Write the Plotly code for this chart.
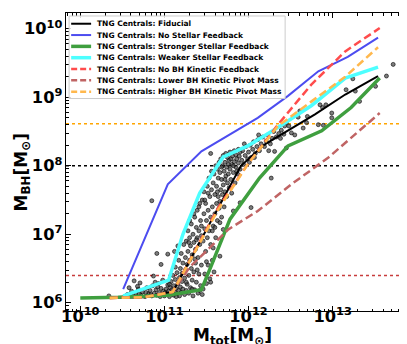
import numpy as np
import plotly.graph_objects as go

# binned median relations, log10 values
fid_logm = [10.35, 10.75, 11.10, 11.64, 11.91, 12.19, 12.59, 12.79, 13.15, 13.54]
fid_logbh = [6.07, 6.08, 6.16, 7.39, 8.00, 8.31, 8.60, 8.75, 9.04, 9.31]

nosf_logm = [10.51, 11.04, 11.44, 11.78, 12.11, 12.47, 12.83, 13.18, 13.54]
nosf_logbh = [6.20, 7.73, 8.21, 8.46, 8.70, 9.02, 9.38, 9.59, 9.87]

strong_logm = [10.0, 10.45, 11.04, 11.44, 11.56, 11.78, 12.13, 12.47, 12.87, 13.22, 13.56]
strong_logbh = [6.07, 6.08, 6.11, 6.19, 6.55, 7.22, 7.82, 8.29, 8.51, 8.85, 9.28]

weak_logm = [10.51, 11.05, 11.22, 11.42, 11.70, 11.99, 12.35, 12.75, 13.15, 13.54]
weak_logbh = [6.10, 6.33, 7.00, 7.60, 8.13, 8.29, 8.56, 8.88, 9.28, 9.44]

nokin_logm = [10.35, 10.75, 11.10, 11.64, 11.99, 12.35, 12.75, 13.15, 13.56]
nokin_logbh = [6.07, 6.08, 6.16, 7.39, 8.02, 8.60, 9.19, 9.67, 10.01]

lowpiv_logm = [10.35, 10.75, 11.10, 11.30, 11.52, 11.76, 12.11, 12.51, 12.95, 13.56]
lowpiv_logbh = [6.07, 6.08, 6.16, 6.52, 6.78, 7.07, 7.34, 7.73, 8.12, 8.77]

highpiv_logm = [10.35, 10.75, 11.10, 11.64, 11.99, 12.35, 12.75, 13.15, 13.54]
highpiv_logbh = [6.07, 6.08, 6.16, 7.36, 8.02, 8.58, 8.94, 9.30, 9.73]

# individual fiducial centrals (log10 M_tot, log10 M_BH)
gal_logm = [
    10.56, 10.61, 10.63, 10.66, 10.69, 10.72, 10.74, 10.77, 10.79, 10.81, 10.83, 10.85, 10.86, 10.88,
    10.90, 10.91, 10.93, 10.94, 10.96, 10.97, 10.99, 10.98, 10.95, 10.89, 10.84, 10.78, 10.70, 10.92,
    11.00, 11.01, 11.02, 11.03, 11.04, 11.05, 11.06, 11.07, 11.08, 11.08, 11.09, 11.10, 11.11, 11.11,
    11.12, 11.13, 11.13, 11.14, 11.15, 11.15, 11.16, 11.17, 11.17, 11.18, 11.18, 11.19, 11.19, 11.20,
    11.20, 11.21, 11.21, 11.22, 11.22, 11.23, 11.02, 11.06, 11.10, 11.14,
    11.24, 11.24, 11.25, 11.25, 11.26, 11.26, 11.27, 11.27, 11.28, 11.28, 11.29, 11.29, 11.30, 11.30,
    11.31, 11.31, 11.32, 11.32, 11.33, 11.33, 11.34, 11.34, 11.35, 11.35, 11.36, 11.36, 11.37, 11.37,
    11.38, 11.38, 11.39, 11.39, 11.40, 11.40, 11.41, 11.41, 11.42, 11.42, 11.43, 11.43, 11.44, 11.44,
    11.45, 11.45, 11.26, 11.29, 11.33, 11.36, 11.39, 11.42, 11.30, 11.35, 11.41, 11.38, 11.44,
    11.46, 11.46, 11.47, 11.47, 11.48, 11.48, 11.49, 11.49, 11.50, 11.50, 11.51, 11.51, 11.52, 11.52,
    11.53, 11.53, 11.54, 11.54, 11.55, 11.55, 11.56, 11.56, 11.57, 11.57, 11.58, 11.58, 11.59, 11.59,
    11.60, 11.60, 11.61, 11.61, 11.62, 11.62, 11.63, 11.63, 11.64, 11.64, 11.65, 11.65, 11.48, 11.52,
    11.57, 11.60, 11.63, 11.50, 11.55, 11.58,
    11.66, 11.66, 11.67, 11.67, 11.68, 11.68, 11.69, 11.69, 11.70, 11.70, 11.71, 11.71, 11.72, 11.72,
    11.73, 11.73, 11.74, 11.74, 11.75, 11.75, 11.76, 11.77, 11.77, 11.78, 11.78, 11.79, 11.80, 11.80,
    11.81, 11.82, 11.83, 11.83, 11.84, 11.85, 11.85, 11.86, 11.87, 11.88, 11.88, 11.89, 11.90, 11.90,
    11.68, 11.72, 11.76, 11.79, 11.82, 11.86,
    11.92, 11.93, 11.94, 11.96, 11.97, 11.99, 12.00, 12.02, 12.03, 12.05, 12.06, 12.08, 12.10, 12.11,
    12.13, 12.15, 12.17, 12.19, 12.21, 12.23, 12.26, 12.28, 12.30, 12.33, 12.36, 12.39, 12.42, 11.95,
    12.01, 12.07, 12.12, 12.24,
    10.34, 10.58, 10.64, 10.68, 10.71, 10.85, 10.87, 10.91, 10.96, 11.04, 11.12, 11.16, 11.55, 11.66,
    11.70, 11.66, 11.82, 11.90, 12.03, 12.27, 12.31, 12.45, 12.43, 12.45, 12.51, 12.59, 12.61, 12.69,
    12.83, 12.89, 12.85, 12.88, 12.92, 12.99, 12.99, 13.16, 13.24, 13.27, 13.32, 13.51, 13.64, 13.72,
    12.55, 12.65, 12.70, 12.48, 12.38,
]
gal_logbh = [
    6.12, 6.17, 6.10, 6.14, 6.20, 6.11, 6.16, 6.09, 6.22, 6.13, 6.18, 6.10, 6.25, 6.14,
    6.19, 6.11, 6.28, 6.15, 6.21, 6.12, 6.17, 6.33, 6.09, 6.30, 6.12, 6.15, 6.13, 6.23,
    6.10, 6.15, 6.20, 6.12, 6.26, 6.17, 6.09, 6.22, 6.14, 6.31, 6.19, 6.40, 6.11, 6.25,
    6.16, 6.34, 6.52, 6.21, 6.13, 6.44, 6.28, 6.18, 6.62, 6.37, 6.10, 6.23, 6.50, 6.15,
    6.72, 6.31, 6.43, 6.20, 6.58, 6.85, 6.13, 6.27, 6.13, 6.09,
    6.12, 6.36, 6.48, 6.66, 6.18, 6.90, 6.27, 6.56, 6.75, 7.05, 6.14, 6.40, 6.62, 6.95,
    6.22, 6.83, 6.50, 7.15, 6.33, 6.70, 6.10, 7.00, 6.45, 6.88, 6.19, 7.25, 6.58, 6.78,
    6.30, 7.10, 6.95, 7.35, 6.14, 6.66, 6.42, 7.05, 6.85, 7.45, 6.25, 7.20, 6.55, 6.98,
    6.12, 7.50, 6.30, 6.88, 6.20, 6.64, 6.48, 6.18, 7.20, 7.30, 7.40, 6.92, 7.12,
    6.20, 6.90, 7.30, 7.62, 6.42, 7.08, 6.75, 7.45, 6.28, 7.20, 6.95, 7.70, 6.55, 7.35,
    7.05, 7.82, 6.35, 7.55, 6.85, 7.25, 7.65, 7.92, 6.62, 7.40, 7.12, 7.75, 6.45, 7.88,
    7.30, 7.58, 6.95, 8.00, 7.45, 7.70, 7.20, 7.95, 7.55, 7.82, 7.38, 8.05, 7.50, 7.60,
    7.05, 7.10, 7.62, 6.60, 6.30, 6.80,
    7.48, 7.90, 7.65, 8.10, 7.25, 7.80, 7.58, 8.00, 7.72, 8.15, 7.40, 7.92, 7.62, 8.05,
    7.85, 8.18, 7.55, 7.98, 7.75, 8.12, 7.88, 7.68, 8.08, 7.95, 8.20, 7.80, 8.02, 7.60,
    8.14, 7.90, 8.06, 8.22, 7.75, 7.98, 8.16, 8.10, 7.88, 8.04, 8.24, 8.14, 7.95, 8.20,
    7.98, 7.80, 8.02, 8.10, 8.00, 7.92,
    8.08, 8.22, 8.02, 8.15, 8.28, 8.10, 8.20, 8.30, 8.12, 8.24, 8.35, 8.18, 8.28, 8.38,
    8.22, 8.32, 8.42, 8.28, 8.36, 8.45, 8.32, 8.40, 8.50, 8.42, 8.47, 8.52, 8.46, 8.32,
    8.05, 8.12, 8.45, 8.22,
    6.10, 6.22, 6.32, 6.24, 6.29, 7.49, 6.39, 6.72, 6.56, 6.71, 6.75, 6.83, 8.18, 6.68,
    7.07, 7.17, 7.34, 7.46, 7.39, 7.82, 8.21, 8.26, 8.58, 8.63, 8.48, 8.71, 8.80, 8.63,
    8.60, 8.59, 8.89, 8.85, 8.89, 8.77, 8.70, 9.11, 9.27, 9.09, 8.94, 9.16, 9.31, 9.48,
    8.45, 8.55, 8.72, 8.58, 8.40,
]

# detection thresholds (horizontal dotted lines)
thr_values = [4.1e8, 1e8, 2.5e6]
thr_colors = ["#ffa500", "#000000", "#c83c3c"]

names = ["TNG Centrals: Fiducial", "TNG Centrals: No Stellar Feedback",
         "TNG Centrals: Stronger Stellar Feedback", "TNG Centrals: Weaker Stellar Feedback",
         "TNG Centrals: No BH Kinetic Feedback", "TNG Centrals: Lower BH Kinetic Pivot Mass",
         "TNG Centrals: Higher BH Kinetic Pivot Mass"]
colors = ["#000000", "#4c4cf0", "#3f9f3f", "#4dffff", "#ff4c4c", "#c06464", "#ffb84d"]
widths = [2, 2, 3.5, 3.5, 2.5, 2.5, 2.5]
dashes = ["solid", "solid", "solid", "solid", "8px,4px", "8px,4px", "8px,4px"]
curves = [(fid_logm, fid_logbh), (nosf_logm, nosf_logbh), (strong_logm, strong_logbh),
          (weak_logm, weak_logbh), (nokin_logm, nokin_logbh), (lowpiv_logm, lowpiv_logbh),
          (highpiv_logm, highpiv_logbh)]

fig = go.Figure()

fig.add_trace(go.Scatter(
    x=10 ** np.array(gal_logm), y=10 ** np.array(gal_logbh), mode="markers",
    marker=dict(size=4, color="rgba(70,70,70,0.7)",
                line=dict(color="rgba(0,0,0,0.85)", width=0.7)),
    showlegend=False, hoverinfo="skip"))

for val, col in zip(thr_values, thr_colors):
    fig.add_hline(y=val, line=dict(color=col, width=1.5, dash="dot"), layer="below")

for (lm, lb), name, col, w, dash in zip(curves, names, colors, widths, dashes):
    fig.add_trace(go.Scatter(
        x=10 ** np.array(lm), y=10 ** np.array(lb), mode="lines", name=name,
        line=dict(color=col, width=w, dash=dash), showlegend=False))

# legend drawn by hand so the rows can be as tight as in the original
fig.add_shape(type="rect", xref="paper", yref="paper", x0=0.009, x1=0.637, y0=0.713, y1=0.99,
              fillcolor="rgba(255,255,255,0.85)", line=dict(color="#cccccc", width=1))
for i, (name, col, w, dash) in enumerate(zip(names, colors, widths, dashes)):
    yy = 0.964 - i * 0.038
    fig.add_shape(type="line", xref="paper", yref="paper", x0=0.015, x1=0.073, y0=yy, y1=yy,
                  line=dict(color=col, width=w, dash="6px,3px" if dash != "solid" else "solid"))
    fig.add_annotation(x=0.084, y=yy, xref="paper", yref="paper", text=name, showarrow=False,
                       xanchor="left", yanchor="middle",
                       font=dict(family="DejaVu Sans", size=7.5, color="black", weight="bold"))

axis_common = dict(
    type="log", dtick=1, exponentformat="power", showexponent="all",
    ticks="inside", ticklen=5, tickwidth=1, tickcolor="black",
    showline=True, linecolor="black", linewidth=1, mirror="allticks",
    showgrid=False, zeroline=False,
    tickfont=dict(family="DejaVu Sans", size=13, color="black", weight="bold"),
    minor=dict(ticks="inside", ticklen=2.5, tickcolor="black", dtick="D1", showgrid=False),
)
fig.update_xaxes(**axis_common, range=[9.83, 13.92], ticklabelstandoff=-9)
fig.update_yaxes(**axis_common, range=[5.88, 10.23])

title_font = dict(family="DejaVu Sans", size=17, color="black", weight="bold")
fig.add_annotation(x=0.485, y=-0.084, xref="paper", yref="paper", showarrow=False,
                   text="M<sub>tot</sub>[M<sub>⊙</sub>]", font=title_font,
                   xanchor="center", yanchor="middle")
fig.add_annotation(x=-0.128, y=0.465, xref="paper", yref="paper", showarrow=False,
                   text="M<sub>BH</sub>[M<sub>⊙</sub>]", font=title_font, textangle=-90,
                   xanchor="center", yanchor="middle")

fig.update_layout(
    width=407, height=344,
    margin=dict(l=58, r=5, t=5, b=41),
    plot_bgcolor="white", paper_bgcolor="white",
    showlegend=False,
)

fig.write_html("out.html")
